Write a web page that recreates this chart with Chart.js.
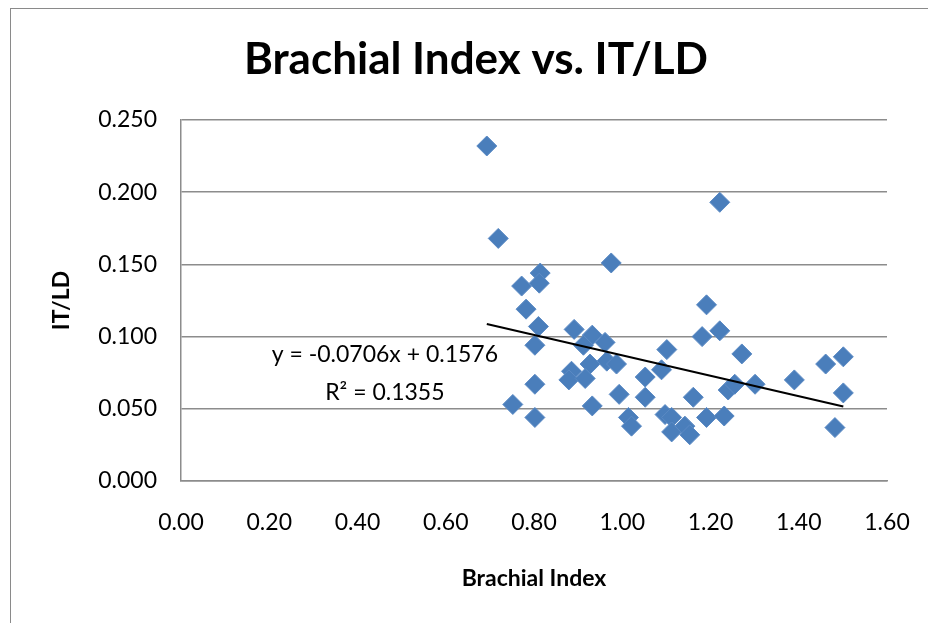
<!DOCTYPE html>
<html>
<head>
<meta charset="utf-8">
<script src="https://cdn.jsdelivr.net/npm/chart.js@4.4.1/dist/chart.umd.min.js"></script>
<style>
  html, body { margin: 0; padding: 0; background: #ffffff; }
  #wrap { position: relative; width: 928px; height: 623px; overflow: hidden; background: #fff; }
  #frame { position: absolute; left: 10px; top: 8px; width: 1000px; height: 700px; border: 1px solid #8a8a8a; box-sizing: border-box; }
  canvas { position: absolute; left: 0; top: 0; }
</style>
</head>
<body>
<div id="wrap">
  <div id="frame"></div>
  <canvas id="c" width="928" height="623"></canvas>
</div>
<script>
// ---- data ----
const brachialIndex = [
  0.693, 0.719, 0.772, 0.814, 0.812, 0.782, 0.810, 0.802, 0.802, 0.752,
  0.802, 0.891, 0.932, 0.912, 0.961, 0.975, 0.965, 0.987, 0.927, 0.885,
  0.879, 0.916, 0.932, 0.993, 1.052, 1.052, 1.014, 1.021, 1.101, 1.089,
  1.097, 1.112, 1.112, 1.142, 1.153, 1.161, 1.191, 1.181, 1.221, 1.221,
  1.191, 1.231, 1.240, 1.255, 1.271, 1.301, 1.390, 1.461, 1.501, 1.501,
  1.482
];
const itld = [
  0.232, 0.168, 0.135, 0.144, 0.137, 0.119, 0.107, 0.094, 0.067, 0.053,
  0.044, 0.105, 0.101, 0.094, 0.096, 0.151, 0.083, 0.081, 0.081, 0.076,
  0.070, 0.071, 0.052, 0.060, 0.072, 0.058, 0.044, 0.038, 0.091, 0.077,
  0.046, 0.044, 0.034, 0.038, 0.032, 0.058, 0.122, 0.100, 0.104, 0.193,
  0.044, 0.045, 0.063, 0.067, 0.088, 0.067, 0.070, 0.081, 0.086, 0.061,
  0.037
];
const trendX = [0.693, 1.501];
const trendY = [0.1087, 0.0516];
const xTicks = [0.00, 0.20, 0.40, 0.60, 0.80, 1.00, 1.20, 1.40, 1.60];
const yTicks = [0.000, 0.050, 0.100, 0.150, 0.200, 0.250];
const chartTitle = 'Brachial Index vs. IT/LD';
const xTitle = 'Brachial Index';
const yTitle = 'IT/LD';
const equationLines = ['y = -0.0706x + 0.1576', 'R\u00B2 = 0.1355'];

// ---- build ----
const points = brachialIndex.map((x, i) => ({ x: x, y: itld[i] }));
const trendPts = trendX.map((x, i) => ({ x: x, y: trendY[i] }));
const FONT = "Lato, 'Open Sans', 'Liberation Sans', sans-serif";
const GRID = '#8c8c8c';

const overlay = {
  id: 'overlay',
  afterDraw(chart) {
    const ctx = chart.ctx;
    const xs = chart.scales.x, ys = chart.scales.y;
    ctx.save();
    ctx.fillStyle = '#000';
    ctx.textAlign = 'center';
    ctx.textBaseline = 'middle';
    ctx.font = 'bold 44px ' + FONT;
    ctx.fillText(chartTitle, 476, 60);
    ctx.font = '23px ' + FONT;
    const cx = xs.getPixelForValue(0.462);
    ctx.fillText(equationLines[0], cx, ys.getPixelForValue(0.0873));
    ctx.fillText(equationLines[1], cx, ys.getPixelForValue(0.0609));
    ctx.restore();
  }
};

new Chart(document.getElementById('c'), {
  type: 'scatter',
  data: {
    datasets: [
      {
        label: 'IT/LD',
        data: points,
        pointStyle: 'rectRot',
        pointRadius: 10,
        pointHoverRadius: 10,
        backgroundColor: '#4a7ebb',
        borderColor: '#5b8ac4',
        borderWidth: 1,
        order: 2
      },
      {
        label: 'Linear',
        type: 'line',
        data: trendPts,
        borderColor: '#000',
        borderWidth: 2,
        pointRadius: 0,
        fill: false,
        order: 1
      }
    ]
  },
  plugins: [overlay],
  options: {
    responsive: false,
    animation: false,
    devicePixelRatio: 1,
    layout: { padding: { top: 120, right: 41, bottom: 0, left: 0 } },
    plugins: {
      legend: { display: false },
      title: { display: false },
      tooltip: { enabled: false }
    },
    scales: {
      x: {
        type: 'linear',
        min: 0, max: 1.6,
        afterFit(s) { s.height = 142; s.paddingLeft = 0; s.paddingRight = 0; },
        afterBuildTicks(s) { s.ticks = xTicks.map(v => ({ value: v })); },
        grid: { display: false, drawTicks: false },
        border: { display: true, color: GRID, width: 1.5 },
        ticks: {
          padding: 28,
          color: '#000',
          font: { family: FONT, size: 23 },
          callback: v => Number(v).toFixed(2),
          maxRotation: 0
        },
        title: {
          display: true,
          text: xTitle,
          color: '#000',
          font: { family: FONT, size: 23, weight: 'bold' },
          padding: { top: 0, bottom: 31 }
        }
      },
      y: {
        type: 'linear',
        min: 0, max: 0.25,
        afterFit(s) { s.width = 181; s.paddingTop = 0; s.paddingBottom = 0; },
        afterBuildTicks(s) { s.ticks = yTicks.map(v => ({ value: v })); },
        grid: { color: GRID, lineWidth: 1.5, drawTicks: false },
        border: { display: true, color: GRID, width: 1.5 },
        ticks: {
          padding: 24,
          color: '#000',
          font: { family: FONT, size: 23 },
          callback: v => Number(v).toFixed(3)
        },
        title: {
          display: true,
          text: yTitle,
          color: '#000',
          font: { family: FONT, size: 23, weight: 'bold' },
          padding: { top: 48, bottom: 0 }
        }
      }
    }
  }
});
</script>
</body>
</html>
